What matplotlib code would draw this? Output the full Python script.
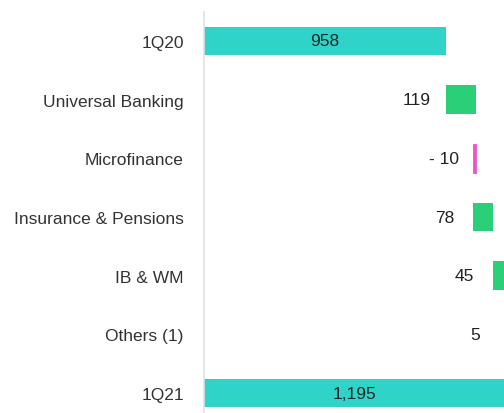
import matplotlib
matplotlib.use("Agg")
import matplotlib.pyplot as plt
from matplotlib.transforms import offset_copy

plt.rcParams["font.family"] = ["Liberation Sans", "DejaVu Sans"]

categories = ["1Q20", "Universal Banking", "Microfinance", "Insurance & Pensions",
              "IB & WM", "Others (1)", "1Q21"]
values = [958, 119, -10, 78, 45, 5, 1195]
is_total = [True, False, False, False, False, False, True]
labels = ["958", "119", "- 10", "78", "45", "5", "1,195"]

TEAL = "#2fd3c7"
GREEN = "#2bcf77"
PINK = "#f055c3"
FS = 12.5

fig = plt.figure(figsize=(5.04, 4.14), dpi=100)
ax = fig.add_axes([204 / 504, 0, 300 / 504, 401 / 414])

running = 0
for i, (v, tot, lab) in enumerate(zip(values, is_total, labels)):
    if tot:
        left, width, color = 0, v, TEAL
        running = v
    else:
        left, width = running, v
        color = GREEN if v >= 0 else PINK
        running += v
    ax.barh(i, width, left=left, height=0.49, color=color,
            edgecolor=color, linewidth=0.6 if v < 0 else 0)
    if tot:
        ax.text(v / 2, i, lab, ha="center", va="center", fontsize=FS, color="#1e2a2a")
    else:
        x0 = min(left, left + width)
        tr = offset_copy(ax.transData, fig=fig, x=-29, y=0, units="dots")
        ax.text(x0, i, lab, ha="center", va="center", fontsize=FS, color="#222222",
                transform=tr)

ax.set_xlim(0, 1188)
ax.set_ylim(6.34, -0.494)
ax.set_yticks(range(len(categories)))
ax.set_yticklabels(categories, fontsize=FS, color="#333333")
ax.tick_params(axis="y", length=0, pad=14.5)
ax.set_xticks([])
for side in ("top", "right", "bottom"):
    ax.spines[side].set_visible(False)
ax.spines["left"].set_color("#e0e0e0")
ax.spines["left"].set_linewidth(1.2)

fig.savefig("out.png", dpi=100)
